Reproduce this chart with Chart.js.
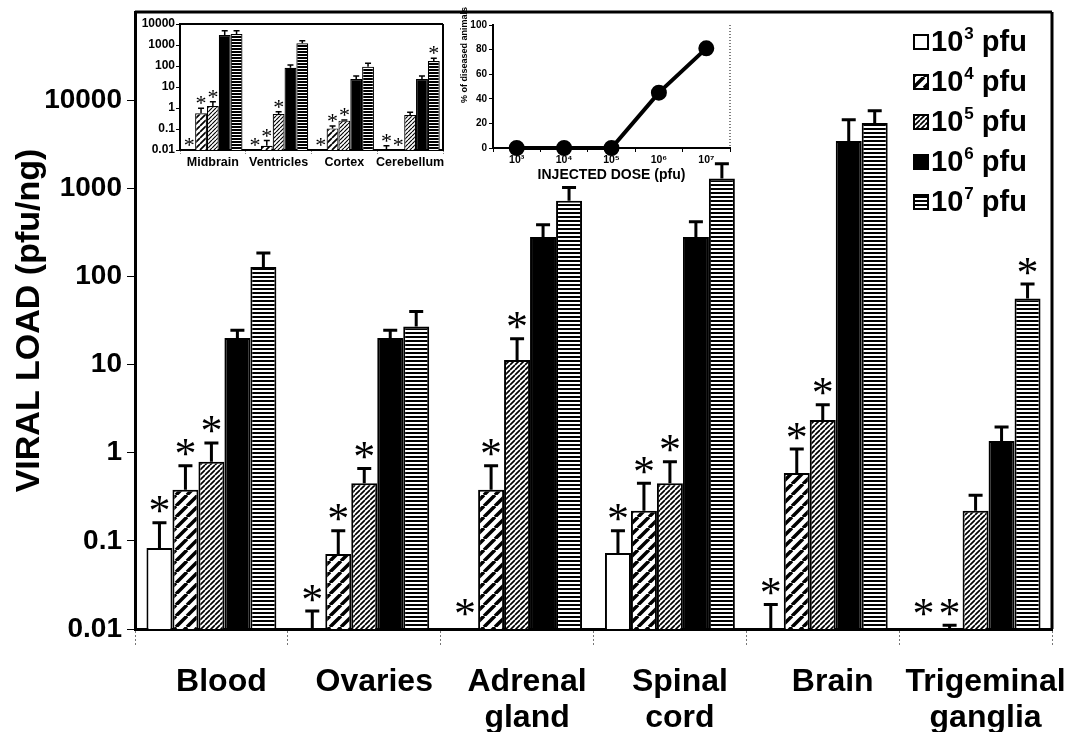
<!DOCTYPE html>
<html>
<head>
<meta charset="utf-8">
<script src="https://cdn.jsdelivr.net/npm/chart.js@4.4.1/dist/chart.umd.min.js"></script>
<style>
  html, body { margin: 0; padding: 0; background: #fff; }
  #wrap { position: relative; width: 1072px; height: 732px; }
  #main { position: absolute; left: 0; top: 0; }
  #inset1 { position: absolute; left: 140px; top: 0; }
  #inset2 { position: absolute; left: 455px; top: 0; }
</style>
</head>
<body>
<div id="wrap">
  <canvas id="main" width="1072" height="732"></canvas>
  <canvas id="inset1" width="310" height="175"></canvas>
  <canvas id="inset2" width="290" height="195"></canvas>
</div>
<script>
// ---- main chart data (pfu/ng), null = nothing detected ----
const tissues = ['Blood', 'Ovaries', ['Adrenal', 'gland'], ['Spinal', 'cord'], 'Brain', ['Trigeminal', 'ganglia']];
const doseExp = ['3', '4', '5', '6', '7'];

const load1e3 = [0.083, null, null, 0.073, null, null];
const load1e4 = [0.38, 0.071, 0.38, 0.22, 0.59, null];
const load1e5 = [0.79, 0.45, 11.3, 0.45, 2.35, 0.22];
const load1e6 = [20, 20, 280, 280, 3450, 1.36];
const load1e7 = [128, 27, 720, 1290, 5500, 56];

// top of the error bars
const err1e3 = [0.16, 0.016, null, 0.13, 0.019, null];
const err1e4 = [0.71, 0.13, 0.71, 0.45, 1.1, 0.011];
const err1e5 = [1.29, 0.66, 19.6, 0.79, 3.5, 0.33];
const err1e6 = [24.5, 24.5, 385, 417, 6000, 1.96];
const err1e7 = [185, 40, 1020, 1900, 7600, 82];

// significance asterisks
const star1e3 = [1, 1, 1, 1, 1, 1];
const star1e4 = [1, 1, 1, 1, 1, 1];
const star1e5 = [1, 1, 1, 1, 1, 0];
const star1e6 = [0, 0, 0, 0, 0, 0];
const star1e7 = [0, 0, 0, 0, 0, 1];

const yTickValues = [0.01, 0.1, 1, 10, 100, 1000, 10000];
const yTickLabels = ['0.01', '0.1', '1', '10', '100', '1000', '10000'];

// ---- inset 1: CNS regions ----
const regions = ['Midbrain', 'Ventricles', 'Cortex', 'Cerebellum'];
const cns1e3 = [null, null, null, null];
const cns1e4 = [0.56, 0.016, 0.107, null];
const cns1e5 = [1.25, 0.52, 0.25, 0.46];
const cns1e6 = [3000, 83, 24, 24];
const cns1e7 = [3300, 1200, 93, 174];
const cnsErr1e3 = [null, null, null, 0.016];
const cnsErr1e4 = [0.97, 0.028, 0.14, null];
const cnsErr1e5 = [2.0, 0.67, 0.27, 0.62];
const cnsErr1e6 = [4800, 112, 33, 33];
const cnsErr1e7 = [4800, 1600, 135, 234];
const cnsStar1e3 = [1, 1, 1, 1];
const cnsStar1e4 = [1, 1, 1, 1];
const cnsStar1e5 = [1, 1, 1, 0];
const cnsStar1e6 = [0, 0, 0, 0];
const cnsStar1e7 = [0, 0, 0, 1];
const insetTickLabels = ['0.01', '0.1', '1', '10', '100', '1000', '10000'];

// ---- inset 2: disease vs dose ----
const doseLabels = ['10³', '10⁴', '10⁵', '10⁶', '10⁷'];
const diseasedPct = [0, 0, 0, 45, 81];

const FONT = "'Liberation Sans', Arial, sans-serif";
Chart.defaults.font.family = FONT;
Chart.defaults.color = '#000';

// hatch fills
function makePattern(kind, scale) {
  const c = document.createElement('canvas');
  const g = c.getContext('2d');
  if (kind === 'stripes') {
    const h = Math.max(3, Math.round(4 * scale));
    c.width = 4; c.height = h;
    g.fillStyle = '#fff'; g.fillRect(0, 0, 4, h);
    g.fillStyle = '#000'; g.fillRect(0, 0, 4, Math.round(h / 2));
  } else {
    const n = Math.round((kind === 'wide' ? 11 : 5) * scale);
    c.width = n; c.height = n;
    g.fillStyle = '#fff'; g.fillRect(0, 0, n, n);
    g.strokeStyle = '#000';
    g.lineWidth = (kind === 'wide' ? 3.5 : 1.7) * scale;
    g.beginPath();
    for (const o of [-n, 0, n]) { g.moveTo(o, n); g.lineTo(o + n, 0); }
    g.stroke();
  }
  return g.createPattern(c, 'repeat');
}

const fills = [
  '#fff', makePattern('wide', 1), makePattern('dense', 1), '#000', makePattern('stripes', 1)
];
const smallFills = [
  '#fff', makePattern('wide', 0.5), makePattern('dense', 0.7), '#000', makePattern('stripes', 0.75)
];

function errorPlugin(errs, stars, st) {
  return {
    id: 'errbars',
    afterDatasetsDraw(chart) {
      const ctx = chart.ctx;
      const y = chart.scales.y;
      ctx.save();
      chart.data.datasets.forEach((ds, d) => {
        chart.getDatasetMeta(d).data.forEach((bar, i) => {
          const x = bar.x;
          const v = ds.data[i];
          const base = y.getPixelForValue(v == null ? y.min : v);
          let top = base;
          const e = errs[d][i];
          if (e != null) {
            top = y.getPixelForValue(e);
            ctx.strokeStyle = '#000';
            ctx.lineWidth = st.lw;
            ctx.beginPath();
            ctx.moveTo(x, base);
            ctx.lineTo(x, top);
            ctx.moveTo(x - st.cap / 2, top);
            ctx.lineTo(x + st.cap / 2, top);
            ctx.stroke();
          }
          if (stars[d][i]) {
            ctx.fillStyle = '#000';
            ctx.font = st.starFont;
            ctx.textAlign = 'center';
            ctx.textBaseline = 'alphabetic';
            const m = ctx.measureText('*');
            const cy = top - (e != null ? st.gap : st.gap0);
            ctx.fillText('*', x, cy + (m.actualBoundingBoxAscent - m.actualBoundingBoxDescent) / 2);
          }
        });
      });
      ctx.restore();
    }
  };
}

function framePlugin(lw, sides, dash) {
  return {
    id: 'frame',
    afterDraw(chart) {
      const a = chart.chartArea, ctx = chart.ctx;
      ctx.save();
      ctx.strokeStyle = '#000';
      ctx.lineWidth = lw;
      if (dash) ctx.setLineDash(dash);
      ctx.beginPath();
      if (sides.includes('top')) { ctx.moveTo(a.left, a.top); ctx.lineTo(a.right, a.top); }
      if (sides.includes('right')) { ctx.moveTo(a.right, a.top); ctx.lineTo(a.right, a.bottom); }
      ctx.stroke();
      ctx.restore();
    }
  };
}

const legendPlugin = {
  id: 'doseLegend',
  afterDraw(chart) {
    const ctx = chart.ctx;
    ctx.save();
    doseExp.forEach((ex, i) => {
      const cy = 42 + i * 40;
      ctx.fillStyle = fills[i];
      ctx.fillRect(914, cy - 7, 14, 14);
      ctx.strokeStyle = '#000';
      ctx.lineWidth = 2;
      ctx.strokeRect(914, cy - 7, 14, 14);
      ctx.fillStyle = '#000';
      ctx.textBaseline = 'middle';
      ctx.textAlign = 'left';
      ctx.font = 'bold 29px ' + FONT;
      ctx.fillText('10', 931, cy + 1);
      let x = 931 + ctx.measureText('10').width + 1;
      ctx.font = 'bold 17px ' + FONT;
      ctx.fillText(ex, x, cy - 8);
      x += ctx.measureText(ex).width;
      ctx.font = 'bold 29px ' + FONT;
      ctx.fillText(' pfu', x, cy + 1);
    });
    ctx.restore();
  }
};

function barSets(arrays, fillList, bw) {
  return arrays.map((arr, i) => ({
    label: '10' + doseExp[i] + ' pfu',
    data: arr,
    backgroundColor: fillList[i],
    borderColor: '#000',
    borderWidth: bw
  }));
}

function noEdgePad(s) { s.paddingTop = 0; s.paddingBottom = 0; }

// ---- main chart ----
new Chart(document.getElementById('main'), {
  type: 'bar',
  data: {
    labels: tissues,
    datasets: barSets([load1e3, load1e4, load1e5, load1e6, load1e7], fills, 2)
  },
  options: {
    responsive: false,
    devicePixelRatio: 1,
    animation: false,
    layout: { padding: { left: 0, right: 20, top: 12, bottom: 0 } },
    datasets: { bar: { categoryPercentage: 0.85, barPercentage: 1.0 } },
    plugins: { legend: { display: false }, tooltip: { enabled: false } },
    scales: {
      x: {
        grid: { display: true, drawOnChartArea: false, offset: true, tickLength: 16, color: '#777', tickBorderDash: [2, 2] },
        border: { display: true, color: '#000', width: 3 },
        ticks: { color: '#000', font: { size: 32, weight: 'bold', lineHeight: 1.12 }, padding: 19, labelOffset: 10, maxRotation: 0, autoSkip: false },
        afterFit(s) { s.height = 103; s.paddingLeft = 0; s.paddingRight = 0; }
      },
      y: {
        type: 'logarithmic',
        min: 0.01,
        max: 100000,
        afterBuildTicks(s) { s.ticks = yTickValues.map(v => ({ value: v })); },
        ticks: { callback: (v, i) => yTickLabels[i], color: '#000', font: { size: 28, weight: 'bold' }, padding: 5 },
        grid: { drawOnChartArea: false, tickLength: 8, color: '#000' },
        border: { display: true, color: '#000', width: 3 },
        title: { display: true, text: 'VIRAL LOAD (pfu/ng)', color: '#000', font: { size: 34, weight: 'bold' }, padding: { top: 9, bottom: 0 } },
        afterFit(s) { s.width = 135; noEdgePad(s); }
      }
    }
  },
  plugins: [
    errorPlugin([err1e3, err1e4, err1e5, err1e6, err1e7], [star1e3, star1e4, star1e5, star1e6, star1e7],
      { lw: 3, cap: 14, gap: 18, gap0: 22, starFont: '44px "Liberation Serif", serif' }),
    framePlugin(3, ['top', 'right']),
    legendPlugin
  ]
});

// ---- inset 1 ----
new Chart(document.getElementById('inset1'), {
  type: 'bar',
  data: {
    labels: regions,
    datasets: barSets([cns1e3, cns1e4, cns1e5, cns1e6, cns1e7], smallFills, 1.2)
  },
  options: {
    responsive: false,
    devicePixelRatio: 1,
    animation: false,
    layout: { padding: { left: 0, right: 7, top: 24, bottom: 0 } },
    datasets: { bar: { categoryPercentage: 0.9, barPercentage: 1.0 } },
    plugins: { legend: { display: false }, tooltip: { enabled: false } },
    scales: {
      x: {
        grid: { display: true, drawOnChartArea: false, offset: true, tickLength: 4, color: '#888', tickBorderDash: [1, 1] },
        border: { display: true, color: '#000', width: 2 },
        ticks: { color: '#000', font: { size: 12.5, weight: 'bold' }, padding: 1, maxRotation: 0, autoSkip: false },
        afterFit(s) { s.height = 25; s.paddingLeft = 0; s.paddingRight = 0; }
      },
      y: {
        type: 'logarithmic',
        min: 0.01,
        max: 10000,
        afterBuildTicks(s) { s.ticks = yTickValues.map(v => ({ value: v })); },
        ticks: { callback: (v, i) => insetTickLabels[i], color: '#000', font: { size: 12, weight: 'bold' }, padding: 1 },
        grid: { drawOnChartArea: false, tickLength: 4, color: '#000' },
        border: { display: true, color: '#000', width: 2 },
        afterFit(s) { s.width = 40; noEdgePad(s); }
      }
    }
  },
  plugins: [
    errorPlugin([cnsErr1e3, cnsErr1e4, cnsErr1e5, cnsErr1e6, cnsErr1e7],
      [cnsStar1e3, cnsStar1e4, cnsStar1e5, cnsStar1e6, cnsStar1e7],
      { lw: 1.5, cap: 6, gap: 8, gap0: 8, starFont: '22px "Liberation Serif", serif' }),
    framePlugin(2, ['top', 'right'])
  ]
});

// ---- inset 2 ----
const yTitlePlugin = {
  id: 'pctTitle',
  afterDraw(chart) {
    const ctx = chart.ctx;
    ctx.save();
    ctx.translate(10, 55);
    ctx.rotate(-Math.PI / 2);
    ctx.fillStyle = '#000';
    ctx.font = 'bold 9px ' + FONT;
    ctx.textAlign = 'center';
    ctx.textBaseline = 'middle';
    ctx.fillText('% of diseased animals', 0, 0);
    ctx.restore();
  }
};

new Chart(document.getElementById('inset2'), {
  type: 'line',
  data: {
    labels: doseLabels,
    datasets: [{
      data: diseasedPct,
      borderColor: '#000',
      borderWidth: 4,
      pointRadius: 6,
      pointBackgroundColor: '#000',
      pointBorderColor: '#000',
      clip: false
    }]
  },
  options: {
    responsive: false,
    devicePixelRatio: 1,
    animation: false,
    layout: { padding: { left: 0, right: 15, top: 25, bottom: 0 } },
    plugins: { legend: { display: false }, tooltip: { enabled: false } },
    scales: {
      x: {
        offset: true,
        grid: { display: true, drawOnChartArea: false, offset: true, tickLength: 4, color: '#000' },
        border: { display: true, color: '#000', width: 2 },
        ticks: { color: '#000', font: { size: 10.5, weight: 'bold' }, padding: 2, maxRotation: 0 },
        title: { display: true, text: 'INJECTED DOSE (pfu)', color: '#000', font: { size: 14, weight: 'bold' }, padding: { top: 0, bottom: 11 } },
        afterFit(s) { s.height = 47; s.paddingLeft = 0; s.paddingRight = 0; }
      },
      y: {
        min: 0,
        max: 100,
        ticks: { stepSize: 20, color: '#000', font: { size: 10, weight: 'bold' }, padding: 2 },
        grid: { drawOnChartArea: false, tickLength: 4, color: '#000' },
        border: { display: true, color: '#000', width: 2 },
        afterFit(s) { s.width = 38; noEdgePad(s); }
      }
    }
  },
  plugins: [framePlugin(1, ['right'], [1, 2]), yTitlePlugin]
});
</script>
</body>
</html>
